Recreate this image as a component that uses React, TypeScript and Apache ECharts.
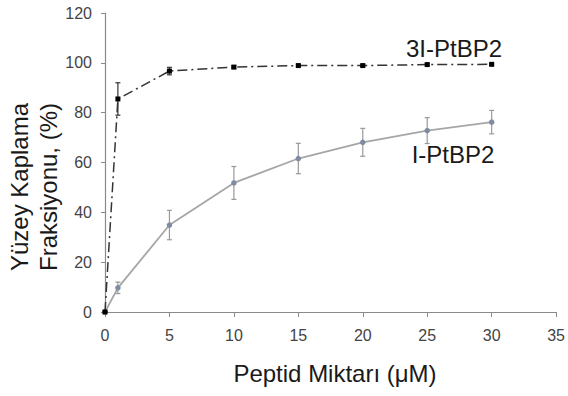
import React, { useEffect, useRef } from "react";
import * as echarts from "echarts";

const xValues = [0, 1, 5, 10, 15, 20, 25, 30];
const s3I = [0, 85.5, 96.7, 98.3, 98.9, 98.9, 99.3, 99.4];
const s3IErr = [0, 6.5, 1.5, 0.6, 0.4, 0.4, 0.4, 0.4];
const sI = [0, 9.7, 34.9, 51.8, 61.6, 68.1, 72.8, 76.2];
const sIErr = [0, 2.3, 5.9, 6.6, 6.1, 5.6, 5.2, 4.7];
const xTicks = { min: 0, max: 35, interval: 5 };
const yTicks = { min: 0, max: 120, interval: 20 };
const label3I = "3I-PtBP2";
const labelI = "I-PtBP2";
const xName = "Peptid Miktarı (μM)";
const yName = ["Yüzey Kaplama", "Fraksiyonu, (%)"];

const FONT = "'Liberation Sans', Arial, sans-serif";

function errData(vals: number[], errs: number[]) {
  return xValues.map((x, i) => [x, vals[i] - errs[i], vals[i] + errs[i]]);
}

function errRender(color: string) {
  return (params: any, api: any) => {
    const x = api.value(0);
    const lo = api.coord([x, api.value(1)]);
    const hi = api.coord([x, api.value(2)]);
    const cap = 2.5;
    const style = { stroke: color, lineWidth: 1.2 };
    return {
      type: "group",
      children: [
        { type: "line", shape: { x1: lo[0], y1: lo[1], x2: hi[0], y2: hi[1] }, style },
        { type: "line", shape: { x1: lo[0] - cap, y1: lo[1], x2: lo[0] + cap, y2: lo[1] }, style },
        { type: "line", shape: { x1: hi[0] - cap, y1: hi[1], x2: hi[0] + cap, y2: hi[1] }, style },
      ],
    };
  };
}

export default function App() {
  const ref = useRef<HTMLDivElement>(null);
  useEffect(() => {
    if (!ref.current) return;
    const chart = echarts.init(ref.current, null, { renderer: "svg" });
    const axisLine = { show: true, lineStyle: { color: "#8a8a8a", width: 1.2 } };
    chart.setOption({
      animation: false,
      backgroundColor: "#ffffff",
      grid: { left: 105, right: 11, top: 13, bottom: 84, containLabel: false },
      xAxis: {
        type: "value",
        min: xTicks.min,
        max: xTicks.max,
        interval: xTicks.interval,
        axisLine,
        axisTick: { show: true, length: 5, lineStyle: { color: "#8a8a8a" } },
        splitLine: { show: false },
        axisLabel: { color: "#444444", fontSize: 16, fontFamily: FONT, margin: 15 },
      },
      yAxis: {
        type: "value",
        min: yTicks.min,
        max: yTicks.max,
        interval: yTicks.interval,
        axisLine,
        axisTick: { show: true, length: 4, lineStyle: { color: "#8a8a8a" } },
        splitLine: { show: false },
        axisLabel: { color: "#444444", fontSize: 16, fontFamily: FONT, margin: 13 },
      },
      series: [
        {
          type: "custom",
          renderItem: errRender("#999999"),
          data: errData(sI, sIErr),
          encode: { x: 0, y: [1, 2] },
          z: 1,
        },
        {
          type: "line",
          data: xValues.map((x, i) => [x, sI[i]]),
          lineStyle: { color: "#a6a6a6", width: 1.8 },
          itemStyle: { color: "#7d8ca3" },
          symbol: "circle",
          symbolSize: 5.5,
          z: 2,
        },
        {
          type: "custom",
          renderItem: errRender("#333333"),
          data: errData(s3I, s3IErr),
          encode: { x: 0, y: [1, 2] },
          z: 3,
        },
        {
          type: "line",
          data: xValues.map((x, i) => [x, s3I[i]]),
          lineStyle: { color: "#333333", width: 1.5, type: [10, 4, 2, 4] },
          itemStyle: { color: "#000000" },
          symbol: "rect",
          symbolSize: 5,
          z: 4,
        },
      ],
      graphic: [
        {
          type: "text",
          x: 454,
          y: 48,
          style: { text: label3I, font: `24px ${FONT}`, fill: "#1a1a1a", align: "center", verticalAlign: "middle" },
        },
        {
          type: "text",
          x: 453,
          y: 154,
          style: { text: labelI, font: `24px ${FONT}`, fill: "#1a1a1a", align: "center", verticalAlign: "middle" },
        },
        {
          type: "text",
          x: 335,
          y: 373,
          style: { text: xName, font: `24px ${FONT}`, fill: "#1a1a1a", align: "center", verticalAlign: "middle" },
        },
        {
          type: "text",
          x: 19,
          y: 187,
          rotation: Math.PI / 2,
          style: { text: yName[0], font: `24px ${FONT}`, fill: "#1a1a1a", align: "center", verticalAlign: "middle" },
        },
        {
          type: "text",
          x: 48,
          y: 187,
          rotation: Math.PI / 2,
          style: { text: yName[1], font: `24px ${FONT}`, fill: "#1a1a1a", align: "center", verticalAlign: "middle" },
        },
      ],
    });
    return () => chart.dispose();
  }, []);
  return <div ref={ref} style={{ width: 568, height: 396, position: "absolute", left: 0, top: 0 }} />;
}
